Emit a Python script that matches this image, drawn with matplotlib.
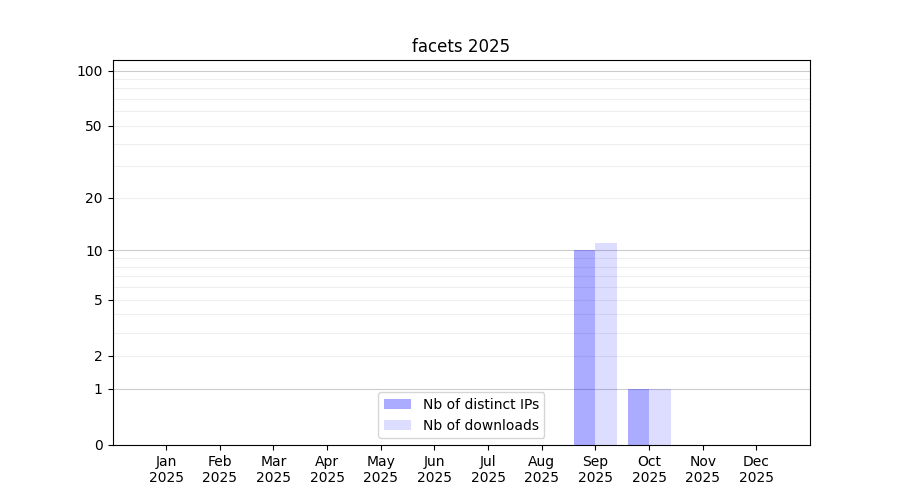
import numpy as np
import matplotlib
matplotlib.use("Agg")
import matplotlib.pyplot as plt

months = ["Jan", "Feb", "Mar", "Apr", "May", "Jun",
          "Jul", "Aug", "Sep", "Oct", "Nov", "Dec"]
year = "2025"
ips = [0, 0, 0, 0, 0, 0, 0, 0, 10, 1, 0, 0]
downloads = [0, 0, 0, 0, 0, 0, 0, 0, 11, 1, 0, 0]
yticks = [0, 1, 2, 5, 10, 20, 50, 100]

fig, ax = plt.subplots(figsize=(9, 5), dpi=100)

# log(1+x) scale so that zero stays on the axis
ax.set_yscale("function", functions=(lambda v: np.log10(1 + np.maximum(v, 0)),
                                     lambda v: 10 ** v - 1))

# light grid, heavier on decades
for v in [2, 3, 4, 5, 6, 7, 8, 9, 20, 30, 40, 50, 60, 70, 80, 90]:
    ax.axhline(v, color="#eeeeee", lw=0.8, zorder=1)
for v in [1, 10, 100]:
    ax.axhline(v, color="#cccccc", lw=0.8, zorder=1)

x = np.arange(len(months))
ax.bar(x, ips, width=-0.4, align="edge", color="blue", alpha=0.33,
       lw=0, label="Nb of distinct IPs", zorder=2)
ax.bar(x, downloads, width=0.4, align="edge", color="blue", alpha=0.133,
       lw=0, label="Nb of downloads", zorder=2)

ax.set_yticks(yticks)
ax.set_yticklabels([str(t) for t in yticks])
ax.yaxis.set_minor_locator(matplotlib.ticker.NullLocator())
ax.set_ylim(0, 114)

ax.set_xticks(x)
ax.set_xticklabels([m + "\n" + year for m in months])
ax.set_xlim(-1, 12)

ax.set_title("facets 2025")
ax.legend(loc="lower center")

fig.savefig("out.png")
